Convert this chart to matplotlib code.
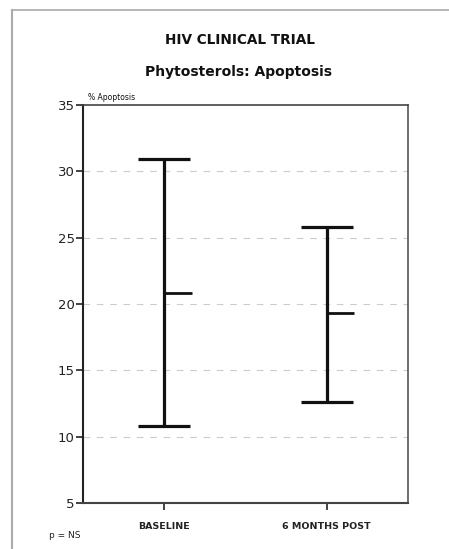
import matplotlib.pyplot as plt
from matplotlib.lines import Line2D

# data
groups = ["BASELINE", "6 MONTHS POST"]
low = [10.8, 12.6]
mean = [20.8, 19.3]
high = [30.9, 25.8]
yticks = [5, 10, 15, 20, 25, 30, 35]

plt.rcParams['font.family'] = ['DejaVu Sans']

fig = plt.figure(figsize=(4.49, 5.49), dpi=100)
ax = fig.add_axes([0.1849, 0.0838, 0.7238, 0.7249])

x = [1, 2]
ax.vlines(x, low, high, color='#111111', lw=2.3)
ax.hlines(low, [i - 0.16 for i in x], [i + 0.16 for i in x], color='#111111', lw=2.3)
ax.hlines(high, [i - 0.16 for i in x], [i + 0.16 for i in x], color='#111111', lw=2.3)
ax.hlines(mean, x, [i + 0.17 for i in x], color='#111111', lw=2.0)

ax.set_xlim(0.5, 2.5)
ax.set_ylim(5, 35)
ax.set_yticks(yticks)
ax.set_xticks(x)
ax.set_xticklabels(groups, fontsize=6.8, fontweight='bold', color='#222222')
ax.tick_params(axis='y', labelsize=9.5, length=5, width=1.2, colors='#222222', pad=1)
ax.tick_params(axis='x', length=5, width=1.2, colors='#222222', pad=9)

for v in yticks[1:-1]:
    ax.axhline(v, color='#cccccc', lw=0.8, ls=(0, (6, 6)), zorder=0)

ax.spines['left'].set_linewidth(1.5)
ax.spines['bottom'].set_linewidth(1.5)
ax.spines['left'].set_color('#222222')
ax.spines['bottom'].set_color('#444444')
ax.spines['top'].set_color('#444444')
ax.spines['right'].set_color('#555555')
ax.spines['top'].set_linewidth(1.2)
ax.spines['right'].set_linewidth(1.2)

fig.text(0.535, 0.927, "HIV CLINICAL TRIAL", ha='center', va='center',
         fontsize=9.8, fontweight='bold', color='#111111')
fig.text(0.532, 0.868, "Phytosterols: Apoptosis", ha='center', va='center',
         fontsize=10, fontweight='bold', color='#111111')
fig.text(0.195, 0.822, "% Apoptosis", ha='left', va='center', fontsize=5.5, color='#111111')
fig.text(0.11, 0.025, "p = NS", ha='left', va='center', fontsize=6.5, color='#222222')

# scanned page border
fig.add_artist(Line2D([0.027, 1.0], [0.982, 0.982], color='#aaaaaa', lw=1.2))
fig.add_artist(Line2D([0.027, 0.027], [0.0, 0.982], color='#aaaaaa', lw=1.5))

fig.savefig("out.png", dpi=100)
